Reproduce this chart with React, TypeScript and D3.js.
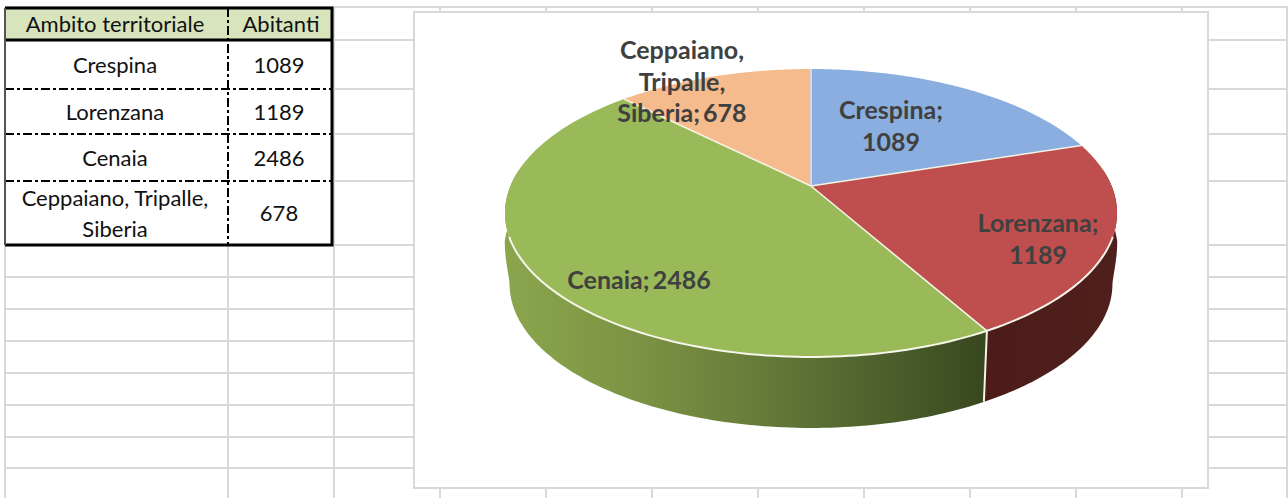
import React from "react";
import * as d3 from "d3";

const categories = ["Crespina", "Lorenzana", "Cenaia", "Ceppaiano, Tripalle, Siberia"];
const values = [1089, 1189, 2486, 678];
const topColors = ["#8aaedf", "#bf4e4e", "#9aba59", "#f6bb8d"];
const tableHeaders = ["Ambito territoriale", "Abitanti"];
const tableNameLines = [["Crespina"], ["Lorenzana"], ["Cenaia"], ["Ceppaiano, Tripalle,", "Siberia"]];
const labelLines = [["Crespina;", "1089"], ["Lorenzana;", "1189"], ["Cenaia; 2486"], ["Ceppaiano,", "Tripalle,", "Siberia; 678"]];

// layout
const W = 1288, H = 498;
const gridYs = [7, 40, 89, 134, 181, 245, 277, 309, 341, 373, 405, 437, 468];
const gridXs = [228, 334, 440, 546, 652, 758, 864, 970, 1076, 1182, 1287];
const tableRowYs = [40, 89, 134, 181, 245];
const labelAt: [number, number][] = [[891, 111], [1038, 224], [639, 281], [682, 51]];
const box = { x: 414, y: 12, w: 794, h: 476 };
const cx = 811, cy = 186, dX = 300.6, aY = 138.9, persp = -0.1875, depth = 71, shrink = 0.985;
const rad = (d: number) => (d * Math.PI) / 180;
const wallFrom = rad(83), wallTo = rad(277);
const rimFrom = rad(110), rimTo = rad(250);

const project = (t: number, wall = false): [number, number] => {
  const u = Math.sin(t), v = -Math.cos(t);
  const k = 1 + persp * v;
  const x = dX * u / k, y = aY * v / k;
  if (!wall) return [cx + x, cy + y];
  const flare = v < 0.19 ? 1 + 0.065 * Math.pow((0.19 - v) / 0.31, 1.5) : 1;
  return [cx + x * shrink * flare, cy + y + depth];
};

const arcs = d3.pie<number>().sort(null)(values);
const line = d3.line();
const sample = (a: number, b: number) => d3.range(0, 121).map(i => a + (b - a) * i / 120);

const slicePath = (a: number, b: number) =>
  line([[cx, cy], ...sample(a, b).map(t => project(t))])! + "Z";
const wallPath = (a: number, b: number) =>
  line([...sample(a, b).map(t => project(t)), ...sample(a, b).reverse().map(t => project(t, true))])! + "Z";
const rimPath = (a: number, b: number) => line(sample(a, b).map(t => project(t)))!;

const FONT = "Lato, 'Open Sans', sans-serif";
const GRID = "#d9d9d9";

export default function App() {
  const colX = 228, tableL = 5, tableR = 332, tableT = 8;
  const nameX = 115, valX = 279;
  const seam = project(arcs[1].endAngle);
  return (
    <svg width={W} height={H} viewBox={`0 0 ${W} ${H}`}
      style={{ position: "absolute", left: 0, top: 0, background: "#fff" }}>
      <defs>
        <linearGradient id="wallGreen" gradientUnits="userSpaceOnUse" x1={505} x2={985} y1={0} y2={0}>
          <stop offset="0" stopColor="#8aa64d" />
          <stop offset="0.3" stopColor="#7a9143" />
          <stop offset="0.6" stopColor="#5f7537" />
          <stop offset="1" stopColor="#38481f" />
        </linearGradient>
        <linearGradient id="wallRed" gradientUnits="userSpaceOnUse" x1={985} x2={1117} y1={0} y2={0}>
          <stop offset="0" stopColor="#4c1c1a" />
          <stop offset="1" stopColor="#4f1f1c" />
        </linearGradient>
      </defs>

      {gridYs.map(y => <line key={y} x1={5} x2={1288} y1={y} y2={y} stroke={GRID} strokeWidth={2} />)}
      {gridXs.map(x => <line key={x} x1={x} x2={x} y1={7} y2={498} stroke={GRID} strokeWidth={2} />)}
      <line x1={5} x2={5} y1={7} y2={498} stroke={GRID} strokeWidth={2} />

      {/* table */}
      <rect x={tableL} y={tableT} width={tableR - tableL} height={tableRowYs[0] - tableT} fill="#d8e4bc" />
      <rect x={tableL} y={tableRowYs[0]} width={tableR - tableL} height={245 - tableRowYs[0]} fill="#fff" />
      <line x1={colX} x2={colX} y1={tableT} y2={245} stroke="#000" strokeWidth={2} strokeDasharray="9 3 3 3" />
      {tableRowYs.slice(1, -1).map(y => (
        <line key={y} x1={tableL} x2={tableR} y1={y} y2={y} stroke="#000" strokeWidth={2} strokeDasharray="9 3 3 3" />
      ))}
      <line x1={tableL} x2={tableR} y1={tableRowYs[0]} y2={tableRowYs[0]} stroke="#000" strokeWidth={3} />
      <path d={`M${tableL} ${tableT}H${tableR}V245H${tableL}`} fill="none" stroke="#000" strokeWidth={3} />
      <line x1={tableL} x2={tableL} y1={tableT} y2={245} stroke="#555" strokeWidth={2} />
      <g fontFamily={FONT} fontSize={22} fill="#111" textAnchor="middle">
        <text x={nameX} y={32}>{tableHeaders[0]}</text>
        <text x={281} y={32}>{tableHeaders[1]}</text>
        {categories.map((c, i) => {
          const mid = (tableRowYs[i] + tableRowYs[i + 1]) / 2 + 8;
          const ls = tableNameLines[i];
          return (
            <g key={c}>
              {ls.map((l, j) => (
                <text key={l} x={nameX} y={mid + (j - (ls.length - 1) / 2) * 31}>{l}</text>
              ))}
              <text x={valX} y={mid}>{values[i]}</text>
            </g>
          );
        })}
      </g>

      {/* chart area */}
      <rect x={box.x} y={box.y} width={box.w} height={box.h} fill="#fff" stroke={GRID} strokeWidth={2} />

      {/* walls */}
      {arcs.map((a, i) => i === 1 || i === 2 ? (
        <path key={i} d={wallPath(Math.max(a.startAngle, wallFrom), Math.min(a.endAngle, wallTo))}
          fill={i === 1 ? "url(#wallRed)" : "url(#wallGreen)"} />
      ) : null)}
      <line x1={seam[0]} y1={seam[1]} x2={seam[0] - 3} y2={seam[1] + depth} stroke="#f4f4e4" strokeWidth={2} />

      {/* top face */}
      {arcs.map((a, i) => (
        <path key={i} d={slicePath(a.startAngle, a.endAngle)} fill={topColors[i]} />
      ))}
      {arcs.map((a, i) => {
        const p = project(a.startAngle);
        return <line key={i} x1={cx} y1={cy} x2={p[0]} y2={p[1]} stroke={i === 0 ? "#d8d8d8" : "#f4f4e6"} strokeWidth={i === 0 ? 2 : 1.6} />;
      })}
      <path d={rimPath(rimFrom, rimTo)} fill="none" stroke="#f6f6ea" strokeWidth={2} />

      {/* labels */}
      <g fontFamily={FONT} fontSize={25} fontWeight={700} fill="#404040" textAnchor="middle" wordSpacing={-3}>
        {labelLines.map((ls, i) => ls.map((l, j) => (
          <text key={l} x={labelAt[i][0]} y={labelAt[i][1] + 8 + j * 31.5}>{l}</text>
        )))}
      </g>
    </svg>
  );
}
